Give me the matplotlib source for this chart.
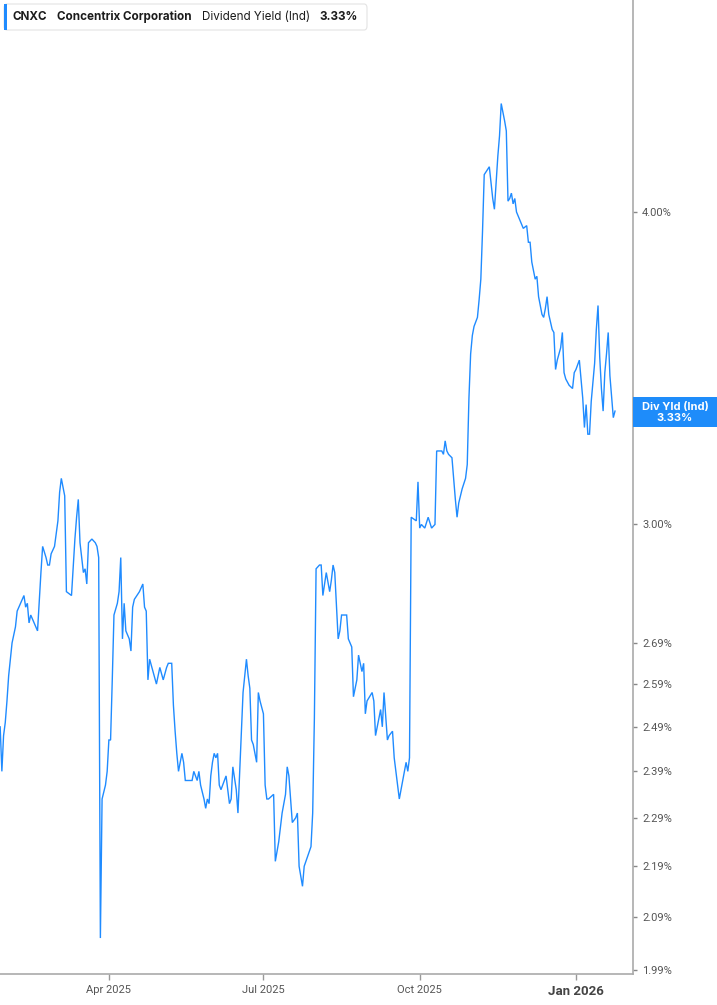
import matplotlib
matplotlib.use("Agg")
import matplotlib.pyplot as plt
import matplotlib.ticker as mticker
from matplotlib.patches import FancyBboxPatch, Rectangle
import pandas as pd

plt.rcParams['font.family'] = ['Inter', 'DejaVu Sans']

# ---------------- data ----------------
ticker = "CNXC"
company = "Concentrix Corporation"
metric = "Dividend Yield (Ind)"
last_value_label = "3.33%"
badge_label = "Div Yld (Ind)"

base_date = "2025-01-01"
days_since_base = [
    26, 27, 28, 29, 30, 31, 32, 33, 34, 35, 36, 37, 38, 40, 41, 42, 43, 44, 46, 48,
    50, 51, 53, 54, 55, 56, 58, 60, 61, 62, 64, 65, 68, 70, 71, 72, 73, 74, 75, 76,
    77, 78, 80, 82, 83, 84, 85, 86, 88, 89, 90, 91, 92, 93, 95, 96, 97, 98, 99, 100,
    102, 103, 104, 105, 108, 110, 111, 112, 113, 114, 116, 118, 120, 122, 124, 125, 127, 128, 129, 130,
    131, 133, 134, 135, 137, 139, 140, 142, 143, 144, 146, 147, 148, 149, 150, 151, 152, 153, 154, 155,
    156, 158, 159, 160, 161, 162, 163, 165, 166, 168, 169, 171, 172, 173, 174, 175, 177, 178, 179, 181,
    182, 183, 184, 187, 188, 190, 192, 194, 195, 196, 198, 200, 201, 202, 204, 205, 207, 209, 210, 211,
    212, 214, 215, 216, 218, 220, 221, 222, 223, 225, 226, 227, 230, 231, 232, 233, 234, 235, 236, 237,
    239, 240, 241, 242, 245, 246, 247, 249, 250, 251, 252, 254, 255, 257, 258, 259, 261, 262, 264, 265,
    266, 267, 268, 271, 272, 273, 274, 276, 278, 280, 282, 283, 286, 287, 288, 289, 290, 292, 294, 295,
    296, 298, 300, 301, 302, 303, 304, 305, 307, 308, 309, 310, 311, 314, 316, 317, 318, 319, 320, 321,
    323, 324, 325, 326, 327, 328, 329, 330, 332, 334, 336, 337, 338, 339, 340, 341, 342, 343, 345, 346,
    347, 348, 349, 351, 352, 353, 354, 356, 357, 358, 359, 361, 363, 364, 365, 367, 368, 369, 370, 371,
    372, 373, 374, 376, 377, 378, 379, 380, 381, 382, 383, 384, 385, 387, 388,
]
dividend_yield = [
    2.49, 2.39, 2.47, 2.50, 2.55, 2.61, 2.65, 2.69, 2.71, 2.73, 2.77, 2.78, 2.79, 2.81, 2.78, 2.79, 2.74, 2.76, 2.74, 2.72,
    2.87, 2.94, 2.91, 2.89, 2.89, 2.92, 2.94, 3.01, 3.09, 3.13, 3.08, 2.82, 2.81, 2.96, 3.02, 3.07, 2.95, 2.91, 2.87, 2.88,
    2.84, 2.95, 2.96, 2.95, 2.94, 2.91, 2.05, 2.33, 2.36, 2.39, 2.46, 2.46, 2.60, 2.76, 2.79, 2.82, 2.91, 2.70, 2.79, 2.72,
    2.70, 2.67, 2.78, 2.80, 2.82, 2.84, 2.78, 2.77, 2.60, 2.65, 2.62, 2.59, 2.63, 2.60, 2.63, 2.64, 2.64, 2.54, 2.48, 2.43,
    2.39, 2.43, 2.41, 2.37, 2.37, 2.37, 2.39, 2.37, 2.39, 2.36, 2.33, 2.31, 2.33, 2.32, 2.38, 2.41, 2.43, 2.42, 2.43, 2.36,
    2.35, 2.37, 2.38, 2.35, 2.32, 2.33, 2.40, 2.35, 2.30, 2.48, 2.57, 2.65, 2.61, 2.58, 2.46, 2.45, 2.41, 2.57, 2.55, 2.52,
    2.36, 2.33, 2.33, 2.34, 2.20, 2.24, 2.30, 2.34, 2.40, 2.38, 2.28, 2.29, 2.30, 2.19, 2.15, 2.19, 2.21, 2.23, 2.30, 2.51,
    2.88, 2.89, 2.89, 2.81, 2.87, 2.82, 2.85, 2.89, 2.87, 2.70, 2.72, 2.76, 2.76, 2.70, 2.69, 2.68, 2.56, 2.58, 2.60, 2.66,
    2.62, 2.64, 2.52, 2.55, 2.57, 2.55, 2.47, 2.51, 2.53, 2.49, 2.57, 2.46, 2.47, 2.48, 2.42, 2.39, 2.33, 2.35, 2.39, 2.41,
    2.39, 2.42, 3.02, 3.01, 3.12, 2.99, 3.00, 2.99, 3.02, 2.99, 3.00, 3.21, 3.21, 3.20, 3.24, 3.21, 3.20, 3.19, 3.07, 3.02,
    3.06, 3.10, 3.13, 3.17, 3.37, 3.51, 3.57, 3.60, 3.63, 3.69, 3.76, 3.93, 4.14, 4.17, 4.05, 4.01, 4.11, 4.21, 4.29, 4.42,
    4.35, 4.31, 4.04, 4.05, 4.07, 4.03, 4.05, 4.00, 3.97, 3.94, 3.95, 3.89, 3.89, 3.82, 3.79, 3.76, 3.77, 3.70, 3.64, 3.63,
    3.66, 3.70, 3.64, 3.59, 3.58, 3.46, 3.49, 3.53, 3.58, 3.45, 3.43, 3.41, 3.40, 3.45, 3.46, 3.49, 3.43, 3.37, 3.28, 3.35,
    3.26, 3.26, 3.36, 3.48, 3.59, 3.67, 3.50, 3.40, 3.33, 3.45, 3.51, 3.58, 3.44, 3.31, 3.33,
]

x_tick_dates = ["2025-04-01", "2025-07-01", "2025-10-01", "2026-01-01"]
x_tick_labels = ["Apr 2025", "Jul 2025", "Oct 2025", "Jan 2026"]
y_tick_values = [1.99, 2.09, 2.19, 2.29, 2.39, 2.49, 2.59, 2.69, 3.00, 4.00]
y_tick_labels = ["1.99%", "2.09%", "2.19%", "2.29%", "2.39%", "2.49%", "2.59%", "2.69%", "3.00%", "4.00%"]

# ---------------- figure ----------------
W, H = 717, 1005
LINE = "#1f8bff"
fig = plt.figure(figsize=(W / 100, H / 100), dpi=100)
fig.patch.set_facecolor("white")

ax_left, ax_right, ax_top, ax_bottom = 0, 632.5, 0, 974.3
ax = fig.add_axes([ax_left / W, 1 - ax_bottom / H, (ax_right - ax_left) / W, (ax_bottom - ax_top) / H])

base = pd.Timestamp(base_date)
dates = base + pd.to_timedelta(days_since_base, unit="D")
ax.plot(dates, dividend_yield, color=LINE, lw=1.0, solid_joinstyle="miter")

ax.set_yscale("log")
ax.set_ylim(1.9827, 4.862)
ax.set_xlim(base + pd.Timedelta(days=25.9), base + pd.Timedelta(days=398.3))

ax.yaxis.set_major_locator(mticker.FixedLocator(y_tick_values))
ax.yaxis.set_minor_locator(mticker.NullLocator())
ax.set_yticklabels(y_tick_labels)
ax.yaxis.tick_right()

ax.set_xticks(pd.to_datetime(x_tick_dates))
ax.set_xticklabels(x_tick_labels)
ax.xaxis.set_minor_locator(mticker.NullLocator())

for s in ["top", "left"]:
    ax.spines[s].set_visible(False)
for s in ["right", "bottom"]:
    ax.spines[s].set_color("#aaaaaa")
    ax.spines[s].set_linewidth(1.2)

ax.tick_params(axis="x", length=4, width=1, color="#999999", labelsize=8,
               labelcolor="#555555", pad=4)
ax.tick_params(axis="y", length=3, width=1, color="#888888", labelsize=8,
               labelcolor="#555555", pad=4)
for lab in ax.get_xticklabels():
    lab.set_family(["Roboto", "DejaVu Sans"])
for lab in ax.get_yticklabels():
    lab.set_family(["Roboto", "DejaVu Sans"])
jan = ax.get_xticklabels()[-1]
jan.set_fontweight("bold")
jan.set_fontsize(9.5)
jan.set_color("#444444")

ax.set_facecolor("white")
ax.grid(False)


def fx(px):
    return px / W


def fy(py):
    return 1 - py / H


# header box
hdr = FancyBboxPatch((fx(4), fy(30)), fx(367) - fx(4), fy(4) - fy(30),
                     boxstyle="round,pad=0,rounding_size=0.004",
                     transform=fig.transFigure, facecolor="white",
                     edgecolor="#e3e3e3", linewidth=0.8, zorder=5)
fig.add_artist(hdr)
fig.add_artist(Rectangle((fx(4), fy(30)), fx(7) - fx(4), fy(4) - fy(30),
                         transform=fig.transFigure, facecolor=LINE,
                         edgecolor="none", zorder=6))
hy = fy(17)
hdr_kw = dict(va="center", ha="left", fontsize=8.4, color="#1c1c1c", zorder=7)
fig.text(fx(13), hy, ticker, fontweight="bold", **hdr_kw)
fig.text(fx(57), hy, company, fontweight="bold", **hdr_kw)
fig.text(fx(202), hy, metric, fontweight="normal", **hdr_kw)
fig.text(fx(319), hy, last_value_label, fontweight="bold", **hdr_kw)

# right badge
fig.add_artist(Rectangle((fx(632.5), fy(427)), fx(717) - fx(632.5), fy(397) - fy(427),
                         transform=fig.transFigure, facecolor="#1e8cfa",
                         edgecolor="none", zorder=6))
fig.text(fx(675), fy(406.5), badge_label, ha="center", va="center", fontsize=8,
         fontweight="bold", color="white", zorder=7)
fig.text(fx(675), fy(417.5), last_value_label, ha="center", va="center", fontsize=8,
         fontweight="bold", color="white", zorder=7)

fig.savefig("out.png", dpi=100, facecolor="white")
